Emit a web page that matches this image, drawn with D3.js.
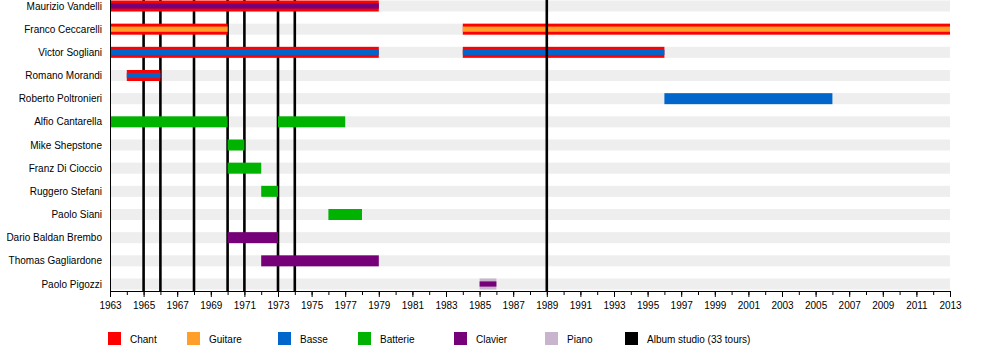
<!DOCTYPE html>
<html>
<head>
<meta charset="utf-8">
<script src="https://cdn.jsdelivr.net/npm/d3@7"></script>
<style>
  body { margin: 0; background: #fff; }
  svg { font-family: "Liberation Sans", Arial, sans-serif; font-size: 10px; }
</style>
</head>
<body>
<div id="chart"></div>
<script>
// Members, top to bottom
const members = [
  'Maurizio Vandelli', 'Franco Ceccarelli', 'Victor Sogliani', 'Romano Morandi',
  'Roberto Poltronieri', 'Alfio Cantarella', 'Mike Shepstone', 'Franz Di Cioccio',
  'Ruggero Stefani', 'Paolo Siani', 'Dario Baldan Brembo', 'Thomas Gagliardone',
  'Paolo Pigozzi'
];

// Roles and their colours (legend order)
const roles = ['Chant', 'Guitare', 'Basse', 'Batterie', 'Clavier', 'Piano'];
const roleColors = ['#ff0000', '#ff9f2a', '#0066cc', '#00b300', '#760078', '#c8b4cc'];

// Each stint: member, from, to, main role, second role (drawn as thinner inner bar)
const stints = [
  ['Maurizio Vandelli', 1963, 1979, 'Chant', 'Clavier'],
  ['Franco Ceccarelli', 1963, 1970, 'Chant', 'Guitare'],
  ['Franco Ceccarelli', 1984, 2013, 'Chant', 'Guitare'],
  ['Victor Sogliani', 1963, 1979, 'Chant', 'Basse'],
  ['Victor Sogliani', 1984, 1996, 'Chant', 'Basse'],
  ['Romano Morandi', 1964, 1966, 'Chant', 'Basse'],
  ['Roberto Poltronieri', 1996, 2006, 'Basse', null],
  ['Alfio Cantarella', 1963, 1970, 'Batterie', null],
  ['Alfio Cantarella', 1973, 1977, 'Batterie', null],
  ['Mike Shepstone', 1970, 1971, 'Batterie', null],
  ['Franz Di Cioccio', 1970, 1972, 'Batterie', null],
  ['Ruggero Stefani', 1972, 1973, 'Batterie', null],
  ['Paolo Siani', 1976, 1978, 'Batterie', null],
  ['Dario Baldan Brembo', 1970, 1973, 'Clavier', null],
  ['Thomas Gagliardone', 1972, 1979, 'Clavier', null],
  ['Paolo Pigozzi', 1985, 1986, 'Piano', 'Clavier']
];

// Studio albums (33 tours)
const albumYears = [1965, 1966, 1968, 1970, 1971, 1973, 1974];
const albumYearsFront = [1989]; // this one sits above the bars in the source

const yearStart = 1963, yearEnd = 2013;
const albumLabel = 'Album studio (33 tours)';

const width = 1000, height = 350;
const margin = {left: 110, right: 50, top: 6, axis: 291};
const barH = 11;

const svg = d3.select('#chart').append('svg')
  .attr('width', width)
  .attr('height', height);

const x = d3.scaleLinear()
  .domain([yearStart, yearEnd])
  .range([margin.left, width - margin.right]);

const y = d3.scalePoint()
  .domain(members)
  .range([margin.top, 284]);

const color = d3.scaleOrdinal().domain(roles).range(roleColors);

// Background stripes
svg.append('g')
  .selectAll('rect')
  .data(members)
  .join('rect')
  .attr('x', x(yearStart))
  .attr('y', d => y(d) - barH / 2)
  .attr('width', x(yearEnd) - x(yearStart))
  .attr('height', barH)
  .attr('fill', '#eeeeee');

// Album lines behind the bars
const drawAlbums = (years) => svg.append('g')
  .selectAll('line')
  .data(years)
  .join('line')
  .attr('x1', d => x(d))
  .attr('x2', d => x(d))
  .attr('y1', 0)
  .attr('y2', margin.axis)
  .attr('stroke', '#000')
  .attr('stroke-width', 2.6);

drawAlbums(albumYears);

// Bars
const bars = svg.append('g');
bars.selectAll('rect.outer')
  .data(stints)
  .join('rect')
  .attr('class', 'outer')
  .attr('x', d => x(d[1]))
  .attr('y', d => y(d[0]) - barH / 2)
  .attr('width', d => x(d[2]) - x(d[1]))
  .attr('height', barH)
  .attr('fill', d => color(d[3]));

bars.selectAll('rect.inner')
  .data(stints.filter(d => d[4]))
  .join('rect')
  .attr('class', 'inner')
  .attr('x', d => x(d[1]))
  .attr('y', d => y(d[0]) - 2.6)
  .attr('width', d => x(d[2]) - x(d[1]))
  .attr('height', 5.2)
  .attr('fill', d => color(d[4]));

drawAlbums(albumYearsFront);

// Left axis line
svg.append('line')
  .attr('x1', margin.left + 0.5)
  .attr('x2', margin.left + 0.5)
  .attr('y1', 0)
  .attr('y2', margin.axis)
  .attr('stroke', '#000');

// Member names
svg.append('g')
  .selectAll('text')
  .data(members)
  .join('text')
  .attr('x', 102)
  .attr('y', d => y(d))
  .attr('dy', '.35em')
  .attr('text-anchor', 'end')
  .attr('fill', '#000')
  .text(d => d);

// Time axis: minor ticks every year, labels every two years
const minorYears = d3.range(yearStart, yearEnd + 1);
const majorYears = d3.range(yearStart, yearEnd + 1, 2);

svg.append('g')
  .attr('transform', `translate(0,${margin.axis})`)
  .call(d3.axisBottom(x).tickValues(minorYears).tickSize(4).tickFormat(''))
  .call(g => g.select('.domain').remove());

const axis = svg.append('g')
  .attr('transform', `translate(0,${margin.axis})`)
  .call(d3.axisBottom(x).tickValues(majorYears).tickSize(6).tickSizeOuter(0)
    .tickPadding(5).tickFormat(d3.format('d')));
axis.selectAll('text').attr('font-size', 10).attr('fill', '#000').attr('font-family', null);
axis.select('.domain').attr('stroke', '#000');

// Legend
const legendItems = roles.map((r, i) => ({label: r, color: roleColors[i]}))
  .concat([{label: albumLabel, color: '#000'}]);
const legendX = [108, 187, 278, 358, 454, 545, 625];

const legend = svg.append('g')
  .selectAll('g')
  .data(legendItems)
  .join('g')
  .attr('transform', (d, i) => `translate(${legendX[i]},332)`);

legend.append('rect')
  .attr('width', 13)
  .attr('height', 13)
  .attr('fill', d => d.color);

legend.append('text')
  .attr('x', 22)
  .attr('y', 7)
  .attr('dy', '.35em')
  .attr('fill', '#000')
  .text(d => d.label);
</script>
</body>
</html>
